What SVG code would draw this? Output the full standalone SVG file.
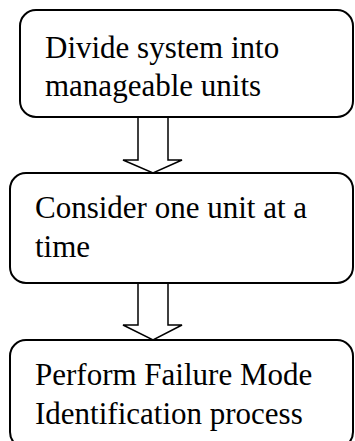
<svg xmlns="http://www.w3.org/2000/svg" width="355" height="441" viewBox="0 0 355 441">
<style>
.box{fill:#fff;stroke:#000;stroke-width:2}
.arr{fill:#fff;stroke:#000;stroke-width:1.5;stroke-linejoin:miter}
text{font-family:"Liberation Serif","Times New Roman",serif;font-size:31px;fill:#000}
</style>
<rect width="355" height="441" fill="#fff"/>
<g id="connectors">
<path class="arr" d="M138,117 V160 H123 L153,173 L182,160 H168 V117"/>
<path class="arr" d="M138,283 V325 H123 L153,340 L182,325 H168 V283"/>
</g>
<g id="node1">
<rect class="box" x="20" y="10" width="333" height="107" rx="16"/>
<text x="45" y="58">Divide system into</text>
<text x="45" y="96">manageable units</text>
</g>
<g id="node2">
<rect class="box" x="10" y="173" width="343" height="110" rx="16"/>
<text x="35" y="218">Consider one unit at a</text>
<text x="35" y="257">time</text>
</g>
<g id="node3">
<rect class="box" x="10" y="340" width="343" height="108" rx="16"/>
<text x="35" y="385">Perform Failure Mode</text>
<text x="35" y="424">Identification process</text>
</g>
</svg>
